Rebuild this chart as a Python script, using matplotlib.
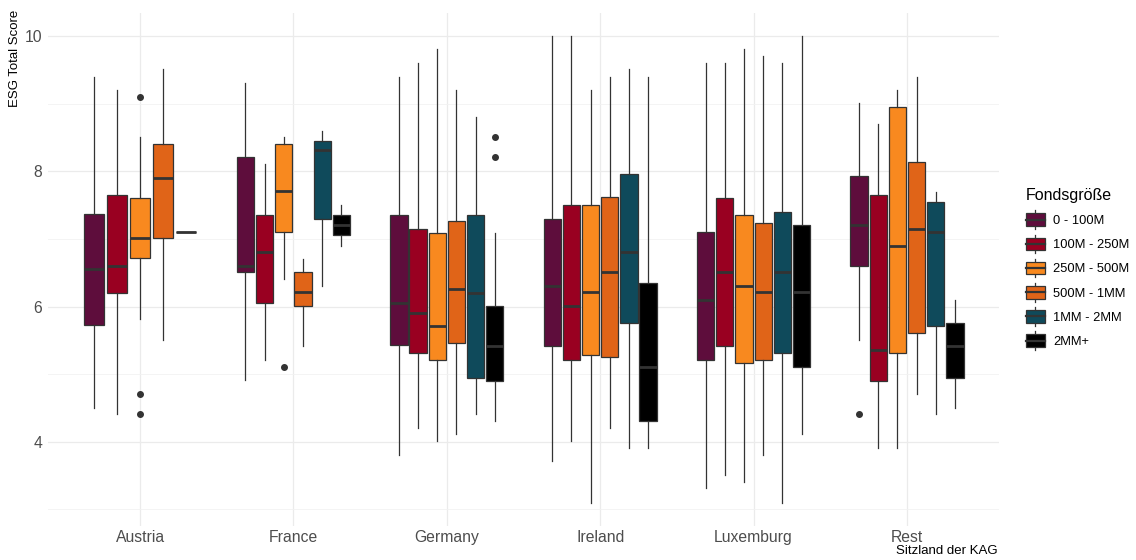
import matplotlib
matplotlib.use("Agg")
import matplotlib.pyplot as plt
from matplotlib.patches import Rectangle, Patch
from matplotlib.lines import Line2D
from matplotlib.legend_handler import HandlerBase

plt.rcParams['font.family'] = ['Liberation Sans', 'DejaVu Sans']

countries = ['Austria', 'France', 'Germany', 'Ireland', 'Luxemburg', 'Rest']
sizes = ['0 - 100M', '100M - 250M', '250M - 500M', '500M - 1MM', '1MM - 2MM', '2MM+']
colors = ['#5E0D3C', '#990021', '#F8891F', '#E06418', '#0F4A5B', '#000000']

# rows = countries, columns = size classes (None = no funds)
whisker_low = [
    [4.50, 4.41, 5.81, 5.51, None, 7.10],
    [4.91, 5.21, 6.40, 5.41, 6.31, 6.90],
    [3.80, 4.21, 4.01, 4.11, 4.41, 4.31],
    [3.71, 4.01, 3.10, 4.21, 3.91, 3.91],
    [3.31, 3.51, 3.41, 3.80, 3.10, 4.11],
    [5.51, 3.91, 3.91, 4.71, 4.41, 4.50],
]
box_low = [
    [5.73, 6.20, 6.71, 7.01, None, 7.10],
    [6.51, 6.05, 7.10, 6.01, 7.30, 7.05],
    [5.43, 5.31, 5.21, 5.46, 4.95, 4.90],
    [5.41, 5.21, 5.28, 5.26, 5.75, 4.30],
    [5.21, 5.41, 5.16, 5.21, 5.31, 5.10],
    [6.60, 4.90, 5.31, 5.61, 5.71, 4.95],
]
median = [
    [6.56, 6.60, 7.01, 7.90, None, 7.10],
    [6.60, 6.80, 7.71, 6.21, 8.31, 7.21],
    [6.05, 5.91, 5.71, 6.26, 6.20, 5.41],
    [6.30, 6.01, 6.21, 6.51, 6.80, 5.10],
    [6.10, 6.51, 6.30, 6.21, 6.51, 6.21],
    [7.21, 5.35, 6.90, 7.15, 7.10, 5.41],
]
box_high = [
    [7.37, 7.65, 7.60, 8.40, None, 7.10],
    [8.21, 7.35, 8.40, 6.51, 8.45, 7.35],
    [7.35, 7.15, 7.09, 7.27, 7.35, 6.01],
    [7.30, 7.50, 7.50, 7.62, 7.96, 6.35],
    [7.10, 7.60, 7.35, 7.24, 7.40, 7.20],
    [7.93, 7.65, 8.95, 8.13, 7.55, 5.75],
]
whisker_high = [
    [9.40, 9.20, 8.51, 9.51, None, 7.10],
    [9.30, 8.10, 8.50, 6.70, 8.60, 7.50],
    [9.40, 9.60, 9.80, 9.20, 8.80, 7.09],
    [10.0, 10.0, 9.20, 9.40, 9.51, 9.40],
    [9.60, 9.60, 9.80, 9.70, 9.60, 10.0],
    [9.01, 8.70, 9.20, 9.40, 7.70, 6.10],
]
outlier_country = ['Austria', 'Austria', 'Austria', 'France', 'Germany', 'Germany', 'Rest']
outlier_size = ['250M - 500M', '250M - 500M', '250M - 500M', '250M - 500M', '2MM+', '2MM+', '0 - 100M']
outlier_value = [9.10, 4.71, 4.41, 5.10, 8.51, 8.21, 4.41]

EDGE = '#333333'
W, H = 1136, 560
fig = plt.figure(figsize=(W / 100, H / 100), dpi=100)
ax = fig.add_axes([48 / W, 34 / H, (999 - 48) / W, (526 - 12.6) / H])

dodge_total = 0.75
for ci, country in enumerate(countries):
    present = [si for si in range(len(sizes)) if median[ci][si] is not None]
    n = len(present)
    slot = dodge_total / n
    for k, si in enumerate(present):
        pos = ci + 1 - dodge_total / 2 + slot * (k + 0.5)
        fl = [v for c, s, v in zip(outlier_country, outlier_size, outlier_value)
              if c == country and s == sizes[si]]
        stats = [dict(whislo=whisker_low[ci][si], q1=box_low[ci][si], med=median[ci][si],
                      q3=box_high[ci][si], whishi=whisker_high[ci][si], fliers=fl)]
        ax.bxp(stats, positions=[pos], widths=slot * 0.9, patch_artist=True,
               showcaps=False, manage_ticks=False,
               boxprops=dict(facecolor=colors[si], edgecolor=EDGE, linewidth=0.9),
               whiskerprops=dict(color=EDGE, linewidth=0.9),
               medianprops=dict(color=EDGE, linewidth=2.0, solid_capstyle='butt'),
               flierprops=dict(marker='o', markerfacecolor=EDGE, markeredgecolor=EDGE,
                               markersize=4, linestyle='none'))

ax.set_xlim(0.4, len(countries) + 0.6)
ax.set_ylim(2.755, 10.345)
ax.set_xticks(range(1, len(countries) + 1))
ax.set_xticklabels(countries)
ax.set_yticks([4, 6, 8, 10])
ax.set_yticks([3, 5, 7, 9], minor=True)
ax.grid(which='major', color='#EBEBEB', linewidth=0.9)
ax.grid(which='minor', axis='y', color='#F2F2F2', linewidth=0.6)
ax.set_axisbelow(True)
for sp in ax.spines.values():
    sp.set_visible(False)
ax.tick_params(which='both', length=0)
ax.tick_params(axis='y', labelsize=11.3, labelcolor='#4D4D4D', pad=4)
ax.tick_params(axis='x', labelsize=11.3, labelcolor='#4D4D4D', pad=3)

fig.text(15 / W, 1 - 58 / H, 'ESG Total Score', rotation=90, ha='center', va='center',
         fontsize=9.5, color='black')
fig.text(998 / W, 1 - 551 / H, 'Sitzland der KAG', ha='right', va='center',
         fontsize=9.5, color='black')


class BoxHandler(HandlerBase):
    def create_artists(self, legend, orig_handle, xdescent, ydescent, width, height,
                       fontsize, trans):
        fc = orig_handle.get_facecolor()
        x0, y0 = -xdescent, -ydescent
        cx = x0 + width / 2
        wl = Line2D([cx, cx], [y0 - 0.12 * height, y0 + 1.12 * height], color=EDGE,
                    linewidth=0.9, transform=trans)
        r = Rectangle((x0, y0 + 0.08 * height), width, 0.84 * height, facecolor=fc,
                      edgecolor=EDGE, linewidth=0.9, transform=trans)
        m = Line2D([x0, x0 + width], [y0 + 0.5 * height] * 2, color=EDGE,
                   linewidth=1.6, transform=trans)
        return [wl, r, m]


handles = [Patch(facecolor=c) for c in colors]
leg = fig.legend(handles, sizes, title='Fondsgröße', loc='center left',
                 bbox_to_anchor=(1014 / W, 1 - 268 / H), frameon=False,
                 fontsize=9.3, title_fontsize=11.5, handler_map={Patch: BoxHandler()},
                 handlelength=1.5, handleheight=1.4, labelspacing=0.72,
                 handletextpad=0.65, alignment='left')

fig.savefig('out.png', dpi=100)
